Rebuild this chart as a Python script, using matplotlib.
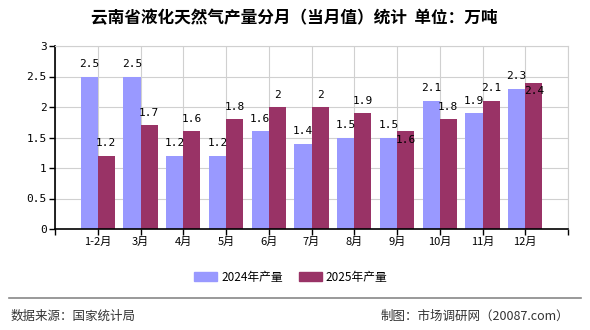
import matplotlib
matplotlib.use("Agg")
import matplotlib.pyplot as plt
from matplotlib.patches import Patch

plt.rcParams['font.family'] = ['Noto Sans CJK SC', 'DejaVu Sans']

# chart data
months = ['1-2月', '3月', '4月', '5月', '6月', '7月', '8月', '9月', '10月', '11月', '12月']
output_2024 = [2.5, 2.5, 1.2, 1.2, 1.6, 1.4, 1.5, 1.5, 2.1, 1.9, 2.3]
output_2025 = [1.2, 1.7, 1.6, 1.8, 2.0, 2.0, 1.9, 1.6, 1.8, 2.1, 2.4]
series_names = ['2024年产量', '2025年产量']

c24 = '#9999FF'
c25 = '#993366'

fig = plt.figure(figsize=(5.9, 3.3), dpi=100)
ax = fig.add_axes([55 / 590, 1 - 229 / 330, 513 / 590, 183 / 330])

pos = list(range(1, len(months) + 1))
w = 0.4
ax.bar([p - w / 2 for p in pos], output_2024, width=w, color=c24, zorder=2)
ax.bar([p + w / 2 for p in pos], output_2025, width=w, color=c25, zorder=2)

# value labels (a couple sit inside the bar like in the source)
mono = ['DejaVu Sans Mono']
for p, v in zip(pos, output_2024):
    ax.annotate(f'{v:g}', (p - w / 2, v), xytext=(0, 9), textcoords='offset points',
                ha='center', va='center', fontsize=8, family=mono, zorder=3)
for i, (p, v) in enumerate(zip(pos, output_2025)):
    dy = 9
    if months[i] in ('9月', '12月'):
        dy = -6
    ax.annotate(f'{v:g}', (p + w / 2, v), xytext=(0, dy), textcoords='offset points',
                ha='center', va='center', fontsize=8, family=mono, zorder=3)

ax.set_xlim(0, 12)
ax.set_ylim(0, 3)
ax.set_xticks(range(0, 13))
ax.set_xticklabels([''] + months + [''], fontsize=8)
ax.set_yticks([0, 0.5, 1, 1.5, 2, 2.5, 3])
ax.set_yticklabels(['0', '0.5', '1', '1.5', '2', '2.5', '3'], fontsize=8, family=mono)
ax.grid(True, color='#d0d0d0', linewidth=0.8, zorder=0)
ax.tick_params(axis='both', length=4, width=1, color='black', pad=2)
for s in ['top', 'right']:
    ax.spines[s].set_color('#d0d0d0')
for s in ['left', 'bottom']:
    ax.spines[s].set_color('black')
    ax.spines[s].set_linewidth(1.2)

fig.text(294 / 590, 1 - 18 / 330, '云南省液化天然气产量分月（当月值）统计  单位：万吨',
         ha='center', va='center', fontsize=12, fontweight='bold')

handles = [Patch(color=c24), Patch(color=c25)]
fig.legend(handles, series_names, loc='center', bbox_to_anchor=(291 / 590, 1 - 277 / 330),
           ncol=2, frameon=False, fontsize=8.5, handlelength=1.9, handleheight=0.7,
           columnspacing=1.4, handletextpad=0.35)

fig.add_artist(plt.Line2D([9 / 590, 581 / 590], [1 - 298 / 330] * 2, color='#888888', linewidth=1.2))
fig.text(11 / 590, 1 - 316 / 330, '数据来源：国家统计局', ha='left', va='center', fontsize=9, color='#333333')
fig.text(569 / 590, 1 - 316 / 330, '制图：市场调研网（20087.com）', ha='right', va='center', fontsize=9, color='#333333')

fig.savefig('out.png', dpi=100)
